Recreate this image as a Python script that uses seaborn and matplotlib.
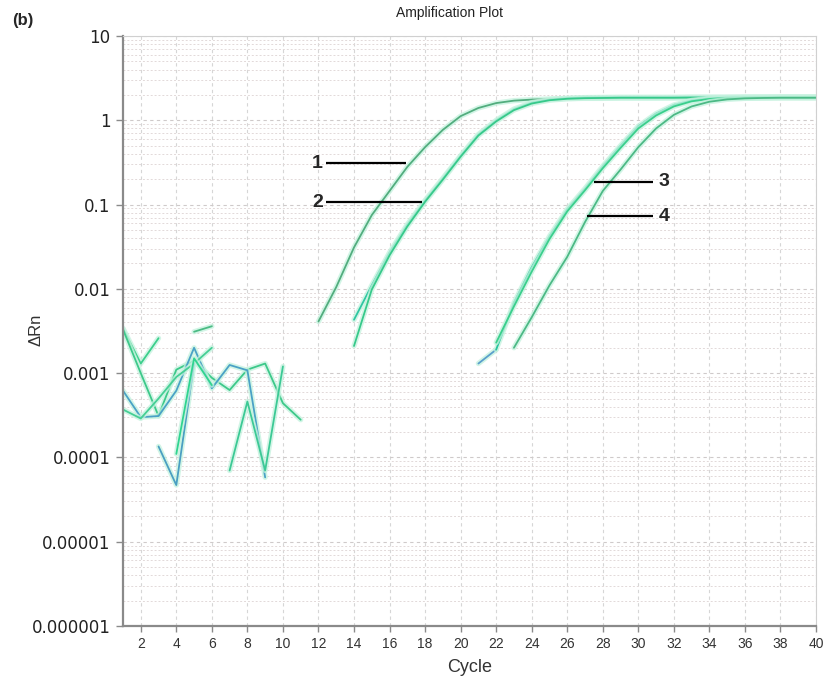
import numpy as np
import pandas as pd
import matplotlib
matplotlib.use('Agg')
import matplotlib.pyplot as plt
import matplotlib.patheffects as pe
from matplotlib.ticker import FixedLocator, FixedFormatter, LogLocator, NullFormatter
import seaborn as sns

sns.set_style('white')
plt.rcParams['font.family'] = ['Liberation Sans', 'DejaVu Sans']

# 扩增曲线 (起始循环数, 数值)
amp1_start = 12
amp1 = [0.0041, 0.0105, 0.031, 0.075, 0.145, 0.28, 0.48, 0.77, 1.12, 1.40, 1.60, 1.71,
        1.76, 1.79, 1.81, 1.82, 1.82, 1.83, 1.83, 1.83, 1.84, 1.84, 1.84, 1.84, 1.84,
        1.84, 1.85, 1.85, 1.85]
amp2a_start = 14
amp2a = [0.0043, 0.011, 0.027, 0.058, 0.112, 0.205, 0.38, 0.68, 1.00, 1.36, 1.62, 1.76,
         1.83, 1.86, 1.87, 1.88, 1.88, 1.88, 1.88, 1.89, 1.89, 1.89, 1.89, 1.89, 1.89,
         1.89, 1.89]
amp2b_start = 14
amp2b = [0.0021, 0.0098, 0.025, 0.055, 0.108, 0.198, 0.37, 0.66, 0.97, 1.32, 1.58, 1.73,
         1.80, 1.83, 1.84, 1.85, 1.85, 1.85, 1.85, 1.86, 1.86, 1.86, 1.86, 1.86, 1.86,
         1.86, 1.86]
amp3pre_start = 21
amp3pre = [0.0013, 0.0019]
amp3a_start = 22
amp3a = [0.0019, 0.0068, 0.018, 0.042, 0.088, 0.155, 0.285, 0.50, 0.85, 1.20, 1.52, 1.72,
         1.82, 1.86, 1.88, 1.88, 1.89, 1.89, 1.89]
amp3b_start = 22
amp3b = [0.0023, 0.0062, 0.016, 0.039, 0.083, 0.148, 0.27, 0.47, 0.80, 1.14, 1.46, 1.68,
         1.79, 1.84, 1.86, 1.87, 1.87, 1.87, 1.87]
amp4_start = 23
amp4 = [0.0020, 0.0046, 0.011, 0.024, 0.062, 0.145, 0.26, 0.48, 0.80, 1.16, 1.46, 1.66,
        1.77, 1.82, 1.84, 1.85, 1.85, 1.85]

# 背景噪声
n1_start, n1 = 1, [0.0034, 0.0013, 0.0026]
n2_start, n2 = 1, [0.0033, 0.0010, 0.00031, 0.0011, 0.0014, 0.00088, 0.00063, 0.0011,
                   0.0013, 0.00044, 0.00028]
n3_start, n3 = 1, [0.00062, 0.00030, 0.00031, 0.00062, 0.0020, 0.00066, 0.00125, 0.00108,
                   0.000058]
n4_start, n4 = 1, [0.00037, 0.00029, 0.00050, 0.00090, 0.0013, 0.0020]
n5_start, n5 = 3, [0.000135, 0.000047, 0.0013]
n6_start, n6 = 4, [0.00011, 0.0015, 0.00072]
n7_start, n7 = 5, [0.0031, 0.0036]
n8_start, n8 = 7, [0.00007, 0.00046, 0.00007, 0.0012]

y_ticks = [1e-6, 1e-5, 1e-4, 1e-3, 1e-2, 1e-1, 1, 10]
y_labels = ['0.000001', '0.00001', '0.0001', '0.001', '0.01', '0.1', '1', '10']
x_ticks = list(range(2, 41, 2))

WELLS = {
    'n1': (n1_start, n1, '#3ccf8c'),
    'n2': (n2_start, n2, '#3dc98a'),
    'n3': (n3_start, n3, '#4aa2c6'),
    'n4': (n4_start, n4, '#45cf95'),
    'n5': (n5_start, n5, '#4a9fc2'),
    'n6': (n6_start, n6, '#30d490'),
    'n7': (n7_start, n7, '#4bbb84'),
    'n8': (n8_start, n8, '#3cc995'),
    'amp1': (amp1_start, amp1, '#52ad7e'),
    'amp2a': (amp2a_start, amp2a, '#2ec7a2'),
    'amp2b': (amp2b_start, amp2b, '#36c98a'),
    'amp3pre': (amp3pre_start, amp3pre, '#5a9fcc'),
    'amp3a': (amp3a_start, amp3a, '#27c59e'),
    'amp3b': (amp3b_start, amp3b, '#3acf8c'),
    'amp4': (amp4_start, amp4, '#4cb985'),
}

rows = []
for well, (start, vals, _) in WELLS.items():
    for i, v in enumerate(vals):
        rows.append({'well': well, 'Cycle': start + i, 'dRn': v})
df = pd.DataFrame(rows)
palette = {k: v[2] for k, v in WELLS.items()}

fig = plt.figure(figsize=(8.24, 6.78), dpi=100)
ax = fig.add_axes([123/824, 1 - 626/678, (816 - 123)/824, (626 - 36)/678])

glow = [pe.Stroke(linewidth=3.8, foreground='#c4f2de', alpha=0.75), pe.Normal()]
sns.lineplot(data=df, x='Cycle', y='dRn', hue='well', units='well', estimator=None,
             palette=palette, legend=False, linewidth=1.3, sort=False, ax=ax,
             path_effects=glow)

ax.set_yscale('log')
ax.set_xlim(1, 40)
ax.set_ylim(1e-6, 10)

ax.yaxis.set_major_locator(FixedLocator(y_ticks))
ax.yaxis.set_major_formatter(FixedFormatter(y_labels))
ax.yaxis.set_minor_locator(LogLocator(base=10, subs=np.arange(2, 10), numticks=20))
ax.yaxis.set_minor_formatter(NullFormatter())
ax.set_xticks(x_ticks)

ax.grid(True, which='major', axis='x', color='#d6d6d6', linestyle=(0, (3, 3)), linewidth=0.8)
ax.grid(True, which='major', axis='y', color='#cfcaca', linestyle=(0, (3, 3)), linewidth=0.8)
ax.grid(True, which='minor', axis='y', color='#e2d9d9', linestyle=(0, (2, 2)), linewidth=0.7)

for side in ['left', 'bottom']:
    ax.spines[side].set_color('#8a8a8a')
    ax.spines[side].set_linewidth(1.6)
for side in ['top', 'right']:
    ax.spines[side].set_color('#d0d0d0')
    ax.spines[side].set_linewidth(0.8)

ax.tick_params(axis='y', which='major', direction='out', length=5, width=1, color='#8a8a8a',
               left=True, labelsize=12, pad=4)
ax.tick_params(axis='y', which='minor', left=False)
ax.tick_params(axis='x', which='major', direction='out', length=4, width=1, color='#8a8a8a',
               bottom=True, labelsize=10, pad=4)
for lab in ax.get_yticklabels():
    lab.set_family(['DejaVu Sans'])
    lab.set_color('#222222')
for lab in ax.get_xticklabels():
    lab.set_color('#333333')

ax.set_xlabel('Cycle', fontsize=13, color='#333333', labelpad=6)
ax.set_ylabel('')
fig.text(36/824, 1 - 330/678, 'ΔRn', rotation=90, fontsize=12, color='#333333',
         ha='center', va='center')
fig.text(450/824, 1 - 13/678, 'Amplification Plot', fontsize=10, color='#222222',
         ha='center', va='center')
fig.text(12/824, 1 - 20/678, '(b)', fontsize=12, fontweight='bold', ha='left', va='center')

# 标注编号
marks = [('1', 12.4, 16.9, 0.31, 'left'), ('2', 12.4, 17.8, 0.107, 'left'),
         ('3', 27.5, 30.8, 0.186, 'right'), ('4', 27.1, 30.8, 0.073, 'right')]
for txt, x0, x1, yv, side in marks:
    ax.plot([x0, x1], [yv, yv], color='black', linewidth=1.6, solid_capstyle='butt')
    if side == 'left':
        ax.text(x0 - 0.15, yv, txt, fontsize=14, fontweight='bold', ha='right', va='center')
    else:
        ax.text(x1 + 0.35, yv, txt, fontsize=14, fontweight='bold', ha='left', va='center')

fig.savefig('out.png', dpi=100)
